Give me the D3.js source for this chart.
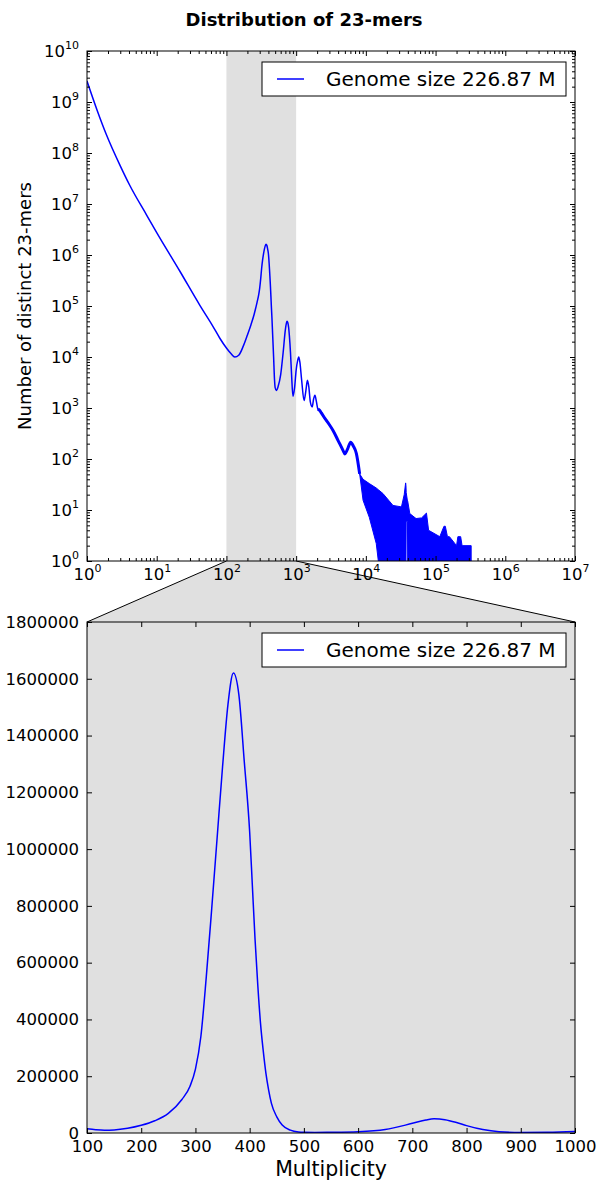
<!doctype html>
<html lang="en-US">
<head>
<meta charset="UTF-8">
<title>Distribution of 23-mers</title>
<script src="https://d3js.org/d3.v7.min.js"></script>
<style>
  body { margin: 0; background: #fff; }
  svg { font-family: "DejaVu Sans", sans-serif; }
</style>
</head>
<body>
<svg id="cvas" width="598" height="1182"></svg>
<script>
// ---- data ---- //

// smooth part of the histogram: multiplicity -> number of distinct 23-mers
const mult = [1, 1.4, 1.9, 3, 4.1, 7.2, 10, 21.5, 41.6, 64, 80, 100, 116, 132,
  150, 175, 200, 225, 250, 275, 290, 300, 310, 320, 330, 340, 350, 360, 370,
  380, 390, 400, 405, 410, 415, 420, 425, 430, 435, 440, 450, 460, 475, 490, 500, 520, 550, 600, 650, 700, 725,
  740, 760, 780, 800, 830, 860, 900, 950, 1000, 1050, 1090, 1130, 1200, 1300, 1380, 1450,
  1520, 1600, 1700, 1780, 1860, 1950, 2050, 2180, 2300, 2570, 2700, 3000, 3380, 4000, 4700,
  5000, 5500, 6050, 6600, 7300, 8150];
const kmers = [2.57e9, 6.84e8, 2.28e8, 5.6e7, 2.33e7, 6.0e6, 2.75e6, 4.8e5, 1.03e5, 4.0e4, 2.36e4, 1.5e4, 1.17e4, 1.0e4,
  10800, 16500, 27000, 43000, 69000, 118000, 165000, 225000, 340000, 550000, 790000, 1040000, 1290000, 1510000, 1620000,
  1545000, 1310000, 1060000, 870000, 680000, 520000, 386000, 290000, 210000, 151000, 105000, 57000, 28000, 10000, 3500, 2500, 2200, 2600, 4500, 12000, 34000, 46000,
  50000, 47000, 38000, 26000, 12000, 4500, 1700, 2500, 5500, 8500, 10000, 8000, 3500, 1400, 2200, 3500,
  2600, 1300, 1050, 1500, 1780, 1350, 950, 890, 800, 630, 575, 470, 363, 230, 148,
  126, 160, 214, 180, 129, 51];

// noisy tail, drawn as the band the dense line fills
const tail_mult  = [8150, 9120, 11200, 14100, 15100, 17600, 24500, 32400, 35500, 37200, 37600, 37900, 39500, 39800,
  42700, 52500, 63000, 74000, 79400, 115000, 132000, 138000, 148000, 158000, 200000, 209000, 229000, 240000, 324000];
const tail_upper = [51, 40, 33, 27, 25, 21, 12.3, 11.5, 20, 34, 30, 22, 15, 15,
  8.5, 6.8, 7, 8.7, 4, 3, 4.8, 4.8, 3, 3, 2, 3, 3, 2, 2];
const tail_lower = [51, 15.5, 7.2, 2.2, 1, 1, 1, 1, 1, 1, 1, 6, 6, 1,
  1, 1, 1, 1, 1, 1, 1, 1, 1, 1, 1, 1, 1, 1, 1];

const zoom_range = [100, 1000];
const noisy_from = 2000;
const log_x_ticks = [1e0, 1e1, 1e2, 1e3, 1e4, 1e5, 1e6, 1e7];
const log_y_ticks = [1e0, 1e1, 1e2, 1e3, 1e4, 1e5, 1e6, 1e7, 1e8, 1e9, 1e10];
const lin_x_ticks = [100, 200, 300, 400, 500, 600, 700, 800, 900, 1000];
const lin_y_ticks = [0, 200000, 400000, 600000, 800000, 1000000, 1200000, 1400000, 1600000, 1800000];
const legend_label = "Genome size 226.87 M";

// ---- layout ---- //
const LEFT = 87, RIGHT = 575;
const TOP1 = 51, BOT1 = 561;
const TOP2 = 622, BOT2 = 1133;
const SPAN_COLOR = "#e0e0e0";
const LINE_COLOR = "#0000ff";
const MAJOR = 5, MINOR = 3;

const svg = d3.select("#cvas");

const x_log = d3.scaleLog().domain([1, 1e7]).range([LEFT, RIGHT]);
const y_log = d3.scaleLog().domain([1, 1e10]).range([BOT1, TOP1]);
const x_lin = d3.scaleLinear().domain(zoom_range).range([LEFT, RIGHT]);
const y_lin = d3.scaleLinear().domain([0, 1800000]).range([BOT2, TOP2]);

const points = mult.map((m, i) => [m, kmers[i]]);
const tail = tail_mult.map((m, i) => ({m: m, lo: tail_lower[i], hi: tail_upper[i]}));

function minor_ticks(lo, hi) {
    let out = [];
    for (let d = lo; d < hi; d++) {
        for (let k = 2; k <= 9; k++) out.push(k * Math.pow(10, d));
    }
    return out;
}

const defs = svg.append("defs");
defs.append("clipPath").attr("id", "clip1").append("rect")
    .attr("x", LEFT).attr("y", TOP1).attr("width", RIGHT - LEFT).attr("height", BOT1 - TOP1);
defs.append("clipPath").attr("id", "clip2").append("rect")
    .attr("x", LEFT).attr("y", TOP2).attr("width", RIGHT - LEFT).attr("height", BOT2 - TOP2);

// connector between the two panels
svg.append("path")
    .attr("d", `M${x_log(zoom_range[0])},${BOT1}L${x_log(zoom_range[1])},${BOT1}L${RIGHT},${TOP2}L${LEFT},${TOP2}Z`)
    .style("fill", SPAN_COLOR).style("stroke", "none");
[[zoom_range[0], LEFT], [zoom_range[1], RIGHT]].forEach(p => {
    svg.append("line")
        .attr("x1", x_log(p[0])).attr("y1", BOT1)
        .attr("x2", p[1]).attr("y2", TOP2)
        .style("stroke", "#000").style("stroke-width", 1);
});

// ---- top panel ---- //
const g1 = svg.append("g");
g1.append("rect").attr("x", LEFT).attr("y", TOP1).attr("width", RIGHT - LEFT).attr("height", BOT1 - TOP1)
    .style("fill", "#fff");
g1.append("rect")
    .attr("x", x_log(zoom_range[0])).attr("y", TOP1)
    .attr("width", x_log(zoom_range[1]) - x_log(zoom_range[0])).attr("height", BOT1 - TOP1)
    .style("fill", SPAN_COLOR);

const log_line = d3.line().x(d => x_log(d[0])).y(d => y_log(d[1])).curve(d3.curveMonotoneX);
const plot1 = g1.append("g").attr("clip-path", "url(#clip1)");
plot1.append("path")
    .datum(tail)
    .attr("d", d3.area().x(d => x_log(d.m)).y0(d => y_log(d.lo)).y1(d => y_log(d.hi)))
    .style("fill", LINE_COLOR).style("stroke", LINE_COLOR).style("stroke-width", 1);
plot1.append("path")
    .datum(points)
    .attr("d", log_line)
    .style("fill", "none").style("stroke", LINE_COLOR).style("stroke-width", 1.5);
// the line gets jittery (thicker) past a few thousand
plot1.append("path")
    .datum(points.filter(d => d[0] >= noisy_from))
    .attr("d", log_line)
    .style("fill", "none").style("stroke", LINE_COLOR).style("stroke-width", 3);

// ---- bottom panel ---- //
const g2 = svg.append("g");
g2.append("rect").attr("x", LEFT).attr("y", TOP2).attr("width", RIGHT - LEFT).attr("height", BOT2 - TOP2)
    .style("fill", SPAN_COLOR);
const plot2 = g2.append("g").attr("clip-path", "url(#clip2)");
plot2.append("path")
    .datum(points.filter(d => d[0] >= zoom_range[0] && d[0] <= zoom_range[1]))
    .attr("d", d3.line().x(d => x_lin(d[0])).y(d => y_lin(d[1])).curve(d3.curveMonotoneX))
    .style("fill", "none").style("stroke", LINE_COLOR).style("stroke-width", 1.5);

// ---- axes ---- //
function log_label(sel) {
    sel.each(function (d) {
        const t = d3.select(this);
        t.text(null);
        t.append("tspan").text("10");
        t.append("tspan").attr("font-size", "11px").attr("dy", "-8px").text(Math.round(Math.log10(d)));
    });
}

function tick_set(g, axis, pos, values, len) {
    g.append("g").attr("transform", pos)
        .call(axis.tickValues(values).tickSize(-len).tickFormat(""))
        .call(a => a.select(".domain").remove())
        .call(a => a.selectAll("line").style("stroke", "#000"));
}

function frame(g, xs, ys, x_major, x_minor, y_major, y_minor, top, bot) {
    tick_set(g, d3.axisBottom(xs), `translate(0,${bot})`, x_minor, MINOR);
    tick_set(g, d3.axisTop(xs), `translate(0,${top})`, x_minor, MINOR);
    tick_set(g, d3.axisLeft(ys), `translate(${LEFT},0)`, y_minor, MINOR);
    tick_set(g, d3.axisRight(ys), `translate(${RIGHT},0)`, y_minor, MINOR);
    tick_set(g, d3.axisTop(xs), `translate(0,${top})`, x_major, MAJOR);
    tick_set(g, d3.axisRight(ys), `translate(${RIGHT},0)`, y_major, MAJOR);

    const xa = g.append("g").attr("transform", `translate(0,${bot})`)
        .call(d3.axisBottom(xs).tickValues(x_major).tickSize(-MAJOR).tickPadding(7));
    const ya = g.append("g").attr("transform", `translate(${LEFT},0)`)
        .call(d3.axisLeft(ys).tickValues(y_major).tickSize(-MAJOR).tickPadding(8));
    [xa, ya].forEach(a => {
        a.select(".domain").remove();
        a.selectAll("line").style("stroke", "#000");
        a.selectAll("text").style("font-size", "16.5px").style("fill", "#000")
            .style("font-family", "DejaVu Sans");
    });

    g.append("rect").attr("x", LEFT).attr("y", top).attr("width", RIGHT - LEFT).attr("height", bot - top)
        .style("fill", "none").style("stroke", "#000").style("stroke-width", 1);
    return [xa, ya];
}

const [xa1, ya1] = frame(g1, x_log, y_log, log_x_ticks, minor_ticks(0, 7),
    log_y_ticks, minor_ticks(0, 10), TOP1, BOT1);
xa1.selectAll("text").call(log_label);
ya1.selectAll("text").call(log_label);

const [xa2, ya2] = frame(g2, x_lin, y_lin, lin_x_ticks, [], lin_y_ticks, [], TOP2, BOT2);
xa2.selectAll("text").text(d => d);
ya2.selectAll("text").text(d => d);

// ---- legends ---- //
function legend(g, top) {
    const lg = g.append("g");
    lg.append("rect").attr("x", 262).attr("y", top).attr("width", 304).attr("height", 34)
        .style("fill", "#fff").style("stroke", "#000").style("stroke-width", 1);
    lg.append("line").attr("x1", 277).attr("x2", 304).attr("y1", top + 17).attr("y2", top + 17)
        .style("stroke", LINE_COLOR).style("stroke-width", 1.5);
    lg.append("text").attr("x", 326).attr("y", top + 24)
        .style("font-size", "20px").style("fill", "#000").text(legend_label);
}
legend(g1, 62);
legend(g2, 633);

// ---- titles ---- //
svg.append("text").attr("x", 304).attr("y", 26)
    .attr("text-anchor", "middle").style("font-size", "18px").style("font-weight", "bold")
    .text("Distribution of 23-mers");
svg.append("text")
    .attr("transform", `translate(31,${(TOP1 + BOT1) / 2}) rotate(-90)`)
    .attr("text-anchor", "middle").style("font-size", "18px")
    .text("Number of distinct 23-mers");
svg.append("text").attr("x", (LEFT + RIGHT) / 2).attr("y", 1176)
    .attr("text-anchor", "middle").style("font-size", "20.5px")
    .text("Multiplicity");
</script>
</body>
</html>
